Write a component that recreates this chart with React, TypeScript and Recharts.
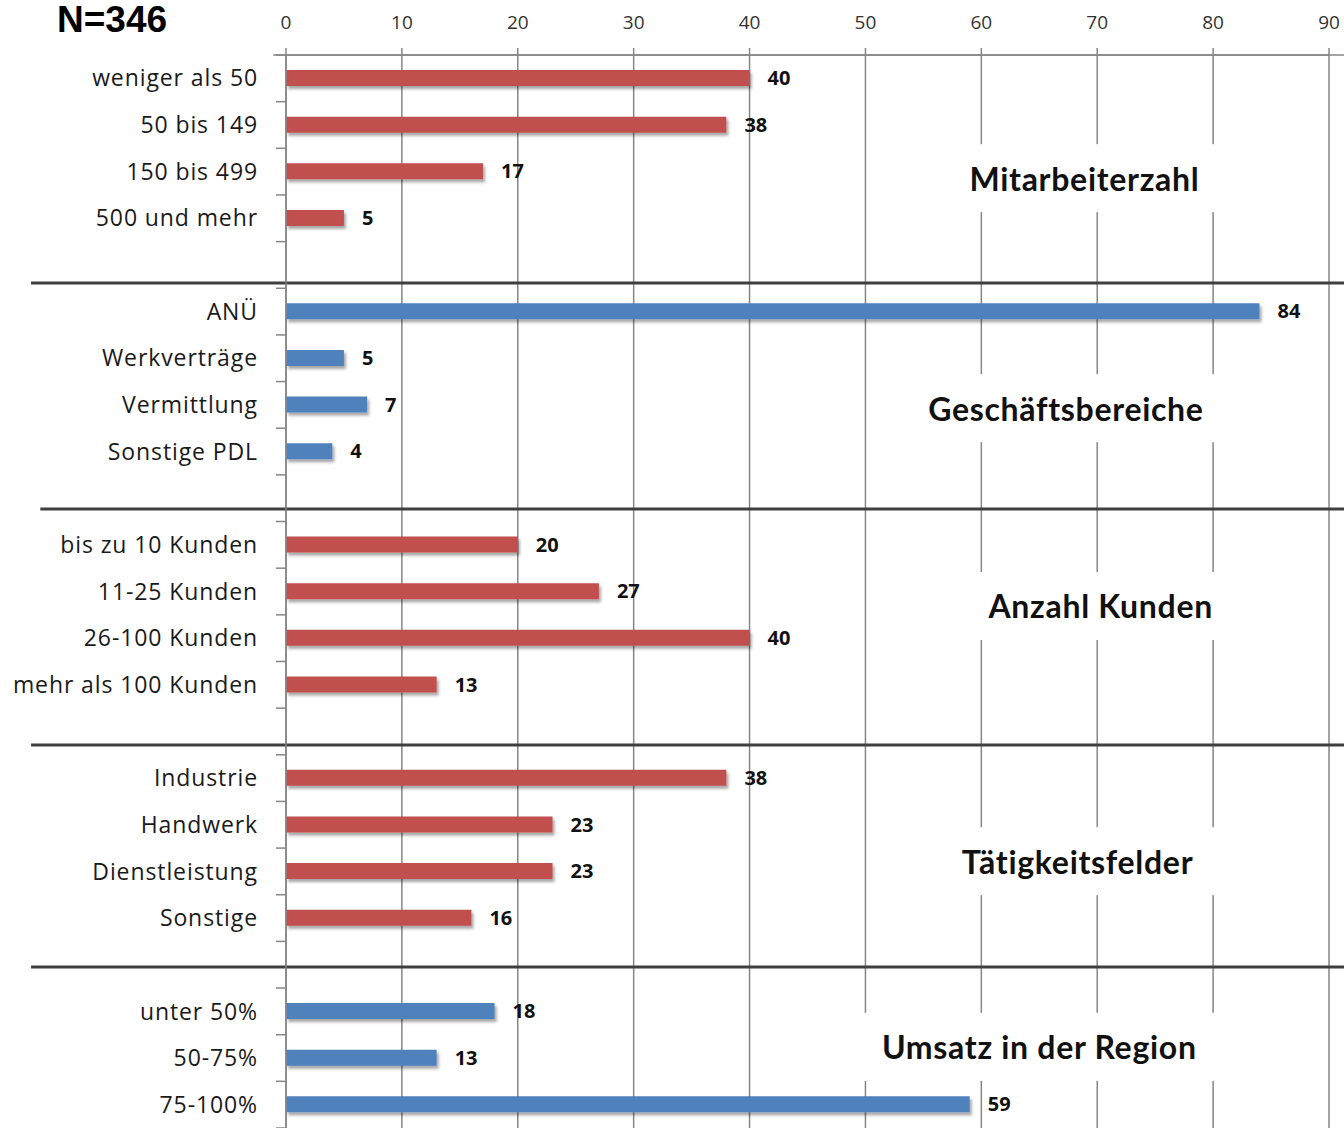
import React from 'react';
import { BarChart, Bar, XAxis, YAxis, CartesianGrid, ReferenceLine, ReferenceDot, LabelList, Cell } from 'recharts';

const RED = '#c0504d';
const BLUE = '#4f81bd';
const GRID = '#868686';

const mitarbeiterLabels = ['weniger als 50', '50 bis 149', '150 bis 499', '500 und mehr'];
const mitarbeiterValues = [40, 38, 17, 5];
const bereichLabels = ['ANÜ', 'Werkverträge', 'Vermittlung', 'Sonstige PDL'];
const bereichValues = [84, 5, 7, 4];
const kundenLabels = ['bis zu 10 Kunden', '11-25 Kunden', '26-100 Kunden', 'mehr als 100 Kunden'];
const kundenValues = [20, 27, 40, 13];
const feldLabels = ['Industrie', 'Handwerk', 'Dienstleistung', 'Sonstige'];
const feldValues = [38, 23, 23, 16];
const umsatzLabels = ['unter 50%', '50-75%', '75-100%'];
const umsatzValues = [18, 13, 59];

const groupTitles = ['Mitarbeiterzahl', 'Geschäftsbereiche', 'Anzahl Kunden', 'Tätigkeitsfelder', 'Umsatz in der Region'];
const groupColors = [RED, BLUE, RED, RED, BLUE];
const groupLabels = [mitarbeiterLabels, bereichLabels, kundenLabels, feldLabels, umsatzLabels];
const groupValues = [mitarbeiterValues, bereichValues, kundenValues, feldValues, umsatzValues];

// title placement: x in axis units, y in row units (rows counted from the top)
const titleX = [68.9, 67.3, 70.3, 68.3, 65.0];
const titleRow = [2.64, 7.57, 11.81, 17.28, 21.26];
// group separators (row units) and where they start on the left (axis units)
const separatorRows = [4.887, 9.73, 14.79, 19.55];
const separatorStart = [-22, -21.2, -22, -22];

const xTicks = [0, 10, 20, 30, 40, 50, 60, 70, 80, 90];

type Row = { name: string; value: number | null; color: string; row: number };
const rows: Row[] = [];
groupLabels.forEach((labels, g) => {
  labels.forEach((name, i) => rows.push({ name, value: groupValues[g][i], color: groupColors[g], row: rows.length + 0.5 }));
  if (g < groupLabels.length - 1) rows.push({ name: '', value: null, color: 'none', row: rows.length + 0.5 });
});
const rowTicks = rows.map((_, i) => i).concat(rows.length);

const FONT = '"Open Sans", sans-serif';
const TITLE_FONT = 'Lato, "Open Sans", sans-serif';
const ROWS_ID = 'aRows';
const CAT_ID = 'zCat';

function TitleBox({ cx, cy, text }: { cx?: number; cy?: number; text: string }) {
  if (cx == null || cy == null) return null;
  const w = text.length * 17 + 36;
  return (
    <g>
      <rect x={cx - w / 2} y={cy - 34} width={w} height={68} fill="#fff" />
      <text
        x={cx}
        y={cy}
        textAnchor="middle"
        dominantBaseline="central"
        fontFamily={TITLE_FONT}
        fontWeight={700}
        fontSize={32}
        letterSpacing={0.7}
        fill="#111"
      >
        {text}
      </text>
    </g>
  );
}

export default function App() {
  return (
    <div style={{ position: 'relative', width: 1344, height: 1128, overflow: 'hidden', background: '#fff' }}>
      <style>{'body{margin:0}'}</style>
      <div style={{ position: 'absolute', left: 57, top: 0, fontFamily: '"Liberation Sans", Arial, sans-serif', fontWeight: 700, fontSize: 37, lineHeight: '40px', color: '#000' }}>
        N=346
      </div>
      <BarChart width={1344} height={1128} data={rows} layout="vertical" margin={{ top: 0, right: 15, left: 0, bottom: 0 }}>
        <defs>
          <filter id="shadow" x="-5%" y="-50%" width="115%" height="220%">
            <feDropShadow dx={2} dy={3} stdDeviation={1.8} floodColor="#000" floodOpacity={0.35} />
          </filter>
        </defs>
        <CartesianGrid horizontal={false} stroke={GRID} strokeWidth={1.5} yAxisId={ROWS_ID} />
        <XAxis
          type="number"
          orientation="top"
          domain={[0, 90]}
          ticks={xTicks}
          height={55}
          tickSize={7}
          tickMargin={19}
          axisLine={{ stroke: GRID, strokeWidth: 1.5 }}
          tickLine={{ stroke: GRID, strokeWidth: 1.5 }}
          tick={{ fontFamily: FONT, fontSize: 19, fill: '#333' }}
        />
        <YAxis
          yAxisId={ROWS_ID}
          type="number"
          dataKey="row"
          domain={[0, rows.length]}
          allowDataOverflow
          ticks={rowTicks}
          interval={0}
          width={10}
          tickSize={10}
          tickMargin={0}
          tickFormatter={() => ''}
          axisLine={{ stroke: GRID, strokeWidth: 1.5 }}
          tickLine={{ stroke: GRID, strokeWidth: 1.5 }}
        />
        <YAxis
          yAxisId={CAT_ID}
          type="category"
          dataKey="name"
          width={276}
          tickLine={false}
          axisLine={false}
          tickSize={6}
          tickMargin={12}
          interval={0}
          tick={{ fontFamily: FONT, fontSize: 23, letterSpacing: 0.9, fill: '#1a1a1a' }}
        />
        <Bar yAxisId={CAT_ID} dataKey="value" barSize={16} isAnimationActive={false} filter="url(#shadow)">
          {rows.map((r, i) => (
            <Cell key={i} fill={r.color} />
          ))}
          <LabelList
            dataKey="value"
            position="right"
            offset={18}
            style={{ fontFamily: FONT, fontWeight: 700, fontSize: 20, fill: '#111' }}
          />
        </Bar>
        <ReferenceLine
          yAxisId={ROWS_ID}
          segment={[{ x: -1.1, y: 0 }, { x: 91.3, y: 0 }]}
          stroke={GRID}
          strokeWidth={1.5}
          ifOverflow="visible"
        />
        {separatorRows.map((r, i) => (
          <ReferenceLine
            key={i}
            yAxisId={ROWS_ID}
            segment={[{ x: separatorStart[i], y: r }, { x: 91.3, y: r }]}
            stroke="#3f3f3f"
            strokeWidth={3}
            ifOverflow="visible"
          />
        ))}
        {groupTitles.map((t, i) => (
          <ReferenceDot
            key={t}
            yAxisId={ROWS_ID}
            x={titleX[i]}
            y={titleRow[i]}
            r={0}
            ifOverflow="visible"
            shape={(p: any) => <TitleBox cx={p.cx} cy={p.cy} text={t} />}
          />
        ))}
      </BarChart>
    </div>
  );
}
